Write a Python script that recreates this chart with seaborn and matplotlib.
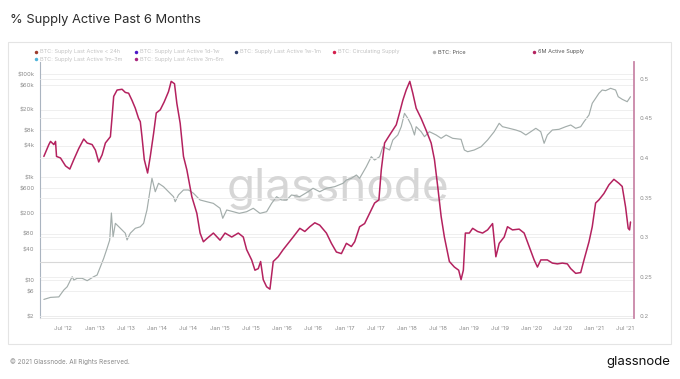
import numpy as np
import pandas as pd
import matplotlib
matplotlib.use("Agg")
import matplotlib.pyplot as plt
import seaborn as sns
from matplotlib.patches import Rectangle

# ---------------- data ----------------
price_year = [2012.185, 2012.292, 2012.425, 2012.505, 2012.559, 2012.612, 2012.639, 2012.665,
              2012.719, 2012.799, 2012.879, 2012.984, 2013.038, 2013.091, 2013.144, 2013.198,
              2013.240, 2013.267, 2013.294, 2013.331, 2013.411, 2013.490, 2013.518, 2013.570,
              2013.650, 2013.730, 2013.783, 2013.837, 2013.879, 2013.917, 2013.970, 2014.022,
              2014.102, 2014.182, 2014.262, 2014.289, 2014.342, 2014.422, 2014.502, 2014.582,
              2014.688, 2014.796, 2014.900, 2015.008, 2015.051, 2015.115, 2015.220, 2015.316,
              2015.434, 2015.540, 2015.647, 2015.754, 2015.834, 2015.914, 2015.994, 2016.073,
              2016.153, 2016.286, 2016.418, 2016.498, 2016.605, 2016.712, 2016.845, 2016.978,
              2017.032, 2017.112, 2017.192, 2017.244, 2017.351, 2017.431, 2017.484, 2017.564,
              2017.617, 2017.671, 2017.724, 2017.776, 2017.856, 2017.911, 2017.963, 2018.016,
              2018.070, 2018.123, 2018.150, 2018.230, 2018.283, 2018.362, 2018.470, 2018.550,
              2018.630, 2018.735, 2018.869, 2018.922, 2018.975, 2019.080, 2019.190, 2019.294,
              2019.400, 2019.480, 2019.533, 2019.640, 2019.747, 2019.827, 2019.907, 2019.987,
              2020.067, 2020.146, 2020.200, 2020.252, 2020.332, 2020.439, 2020.546, 2020.626,
              2020.706, 2020.786, 2020.839, 2020.919, 2020.971, 2021.025, 2021.078, 2021.131,
              2021.185, 2021.265, 2021.345, 2021.387, 2021.451, 2021.531, 2021.584]
price_usd = [4.2, 4.6, 4.7, 6.4, 7.4, 10.0, 11.6, 10.0,
             10.8, 10.8, 9.7, 11.6, 12.5, 18.1, 26.4, 41.3,
             59.8, 200, 69, 126, 101, 81, 60, 81,
             101, 108, 126, 229, 483, 944, 518, 755,
             649, 518, 415, 331, 448, 560, 560, 483,
             358, 331, 308, 247, 158, 229, 212, 197,
             212, 247, 197, 212, 308, 415, 358, 358,
             448, 415, 518, 604, 518, 604, 649, 755,
             875, 944, 1094, 944, 1585, 2478, 2138, 2478,
             3874, 3608, 3344, 5229, 6546, 9484, 17260, 13800,
             10230, 6546, 9484, 7586, 6066, 7586, 6546, 5640,
             6546, 5640, 5396, 3344, 3100, 3344, 3874, 5229,
             7586, 11036, 9484, 8824, 8180, 7586, 6546, 7586,
             8824, 7586, 4512, 6546, 8180, 8434, 9484, 10230,
             8824, 9484, 11860, 16000, 26980, 33740, 42180, 48880,
             47500, 52760, 48880, 36240, 32280, 28980, 36240]

active_year = [2012.185, 2012.265, 2012.292, 2012.345, 2012.372, 2012.388, 2012.452, 2012.532,
               2012.601, 2012.665, 2012.744, 2012.824, 2012.879, 2012.958, 2013.011, 2013.064,
               2013.118, 2013.171, 2013.251, 2013.278, 2013.304, 2013.358, 2013.438, 2013.490,
               2013.543, 2013.597, 2013.650, 2013.703, 2013.730, 2013.757, 2013.794, 2013.847,
               2013.890, 2013.943, 2013.986, 2014.050, 2014.113, 2014.182, 2014.225, 2014.278,
               2014.316, 2014.369, 2014.422, 2014.476, 2014.556, 2014.636, 2014.688, 2014.741,
               2014.796, 2014.901, 2015.008, 2015.088, 2015.195, 2015.300, 2015.380, 2015.434,
               2015.514, 2015.567, 2015.620, 2015.658, 2015.700, 2015.754, 2015.807, 2015.860,
               2015.939, 2016.019, 2016.099, 2016.179, 2016.286, 2016.366, 2016.446, 2016.526,
               2016.605, 2016.712, 2016.792, 2016.872, 2016.952, 2017.032, 2017.112, 2017.165,
               2017.244, 2017.324, 2017.404, 2017.484, 2017.553, 2017.591, 2017.644, 2017.724,
               2017.831, 2017.883, 2017.936, 2017.990, 2018.048, 2018.096, 2018.150, 2018.230,
               2018.310, 2018.390, 2018.443, 2018.495, 2018.550, 2018.602, 2018.682, 2018.762,
               2018.831, 2018.869, 2018.906, 2018.938, 2019.002, 2019.055, 2019.134, 2019.214,
               2019.294, 2019.374, 2019.400, 2019.427, 2019.480, 2019.560, 2019.613, 2019.693,
               2019.800, 2019.880, 2019.960, 2020.040, 2020.093, 2020.147, 2020.252, 2020.332,
               2020.412, 2020.492, 2020.572, 2020.626, 2020.706, 2020.786, 2020.839, 2020.919,
               2020.971, 2021.025, 2021.078, 2021.158, 2021.238, 2021.318, 2021.398, 2021.451,
               2021.505, 2021.547, 2021.569, 2021.584]
active_share = [0.402, 0.417, 0.421, 0.417, 0.421, 0.402, 0.400, 0.390,
                0.386, 0.398, 0.412, 0.424, 0.419, 0.417, 0.410, 0.395,
                0.404, 0.419, 0.427, 0.452, 0.478, 0.486, 0.487, 0.483,
                0.482, 0.473, 0.463, 0.450, 0.446, 0.427, 0.398, 0.381,
                0.402, 0.431, 0.457, 0.461, 0.471, 0.484, 0.497, 0.494,
                0.469, 0.444, 0.402, 0.385, 0.351, 0.330, 0.305, 0.294,
                0.298, 0.305, 0.296, 0.305, 0.300, 0.305, 0.300, 0.284,
                0.271, 0.258, 0.260, 0.269, 0.246, 0.237, 0.234, 0.269,
                0.275, 0.284, 0.292, 0.300, 0.311, 0.307, 0.313, 0.318,
                0.315, 0.305, 0.292, 0.281, 0.279, 0.292, 0.288, 0.294,
                0.313, 0.317, 0.330, 0.343, 0.347, 0.385, 0.419, 0.429,
                0.442, 0.457, 0.473, 0.486, 0.497, 0.482, 0.463, 0.450,
                0.435, 0.419, 0.398, 0.364, 0.326, 0.300, 0.269, 0.262,
                0.258, 0.246, 0.258, 0.305, 0.305, 0.311, 0.307, 0.305,
                0.309, 0.317, 0.296, 0.275, 0.292, 0.300, 0.313, 0.309,
                0.310, 0.305, 0.288, 0.271, 0.262, 0.271, 0.271, 0.267,
                0.266, 0.267, 0.266, 0.260, 0.254, 0.255, 0.271, 0.294,
                0.313, 0.343, 0.347, 0.355, 0.366, 0.373, 0.368, 0.364,
                0.338, 0.311, 0.309, 0.319]

left_ticks = [2, 6, 10, 40, 80, 200, 600, 1000, 4000, 8000, 20000, 60000, 100000]
left_labels = ["$2", "$6", "$10", "$40", "$80", "$200", "$600", "$1k", "$4k", "$8k",
               "$20k", "$60k", "$100k"]
right_ticks = [0.2, 0.25, 0.3, 0.35, 0.4, 0.45, 0.5]
right_labels = ["0.2", "0.25", "0.3", "0.35", "0.4", "0.45", "0.5"]
xtick_dates = ["2012-07-01", "2013-01-01", "2013-07-01", "2014-01-01", "2014-07-01",
               "2015-01-01", "2015-07-01", "2016-01-01", "2016-07-01", "2017-01-01",
               "2017-07-01", "2018-01-01", "2018-07-01", "2019-01-01", "2019-07-01",
               "2020-01-01", "2020-07-01", "2021-01-01", "2021-07-01"]
xtick_labels = ["Jul '12", "Jan '13", "Jul '13", "Jan '14", "Jul '14", "Jan '15", "Jul '15",
                "Jan '16", "Jul '16", "Jan '17", "Jul '17", "Jan '18", "Jul '18", "Jan '19",
                "Jul '19", "Jan '20", "Jul '20", "Jan '21", "Jul '21"]
legend_row1 = ["BTC: Supply Last Active < 24h", "BTC: Supply Last Active 1d-1w",
               "BTC: Supply Last Active 1w-1m", "BTC: Circulating Supply",
               "BTC: Price", "6M Active Supply"]
legend_row2 = ["BTC: Supply Last Active 1m-3m", "BTC: Supply Last Active 3m-6m"]
title_text = "% Supply Active Past 6 Months"
footer_text = "\u00a9 2021 Glassnode. All Rights Reserved."
brand_text = "glassnode"

# ---------------- styling ----------------
sns.set_theme(style="white")
plt.rcParams["font.family"] = ["Inter", "DejaVu Sans"]

PRICE_C = "#a3adab"
ACTIVE_C = "#b4225f"
TICK_C = "#8c8c8c"
W, H = 680, 379

def to_dates(years):
    y = np.asarray(years, dtype=float)
    return pd.Timestamp("2012-01-01") + pd.to_timedelta((y - 2012.0) * 365.25, unit="D")

price_df = pd.DataFrame({"date": to_dates(price_year), "price": price_usd})
active_df = pd.DataFrame({"date": to_dates(active_year), "share": active_share})

fig = plt.figure(figsize=(W / 100, H / 100), dpi=100)
fig.patch.set_facecolor("white")

# pixel-space overlay for decorations
ov = fig.add_axes([0, 0, 1, 1], zorder=-1)
ov.set_xlim(0, W)
ov.set_ylim(H, 0)
ov.axis("off")
ov.add_patch(Rectangle((8, 42), 663, 302, facecolor="white", edgecolor="#e4e4e4", lw=0.8))

# main axes (plot area x 40..634, y 62..318 px)
ax = fig.add_axes([40 / W, 1 - 318 / H, 594 / W, 256 / H])
ax.set_facecolor("none")
ax.set_yscale("log")
ax.set_ylim(1.83, 171000)
ax.set_xlim(pd.Timestamp("2012-02-15"), pd.Timestamp("2021-08-22"))

for t in left_ticks:
    ax.axhline(t, color="#ececec", lw=0.6, zorder=0)

ax.text(0.502, 0.505, "glassnode", transform=ax.transAxes, ha="center", va="center",
        fontsize=33, color="#d6d6d6", zorder=0.5, family=["Inter", "DejaVu Sans"])

sns.lineplot(data=price_df, x="date", y="price", ax=ax, color=PRICE_C, lw=0.85, zorder=2)

ax.set_yticks(left_ticks)
ax.set_yticklabels(left_labels)
ax.yaxis.set_minor_locator(matplotlib.ticker.NullLocator())
ax.set_xticks(pd.to_datetime(xtick_dates))
ax.set_xticklabels(xtick_labels)
ax.tick_params(axis="both", length=0, labelsize=4.3, colors=TICK_C, pad=4)
ax.tick_params(axis="x", pad=6)
ax.set_xlabel("")
ax.set_ylabel("")
for s in ["top", "right"]:
    ax.spines[s].set_visible(False)
ax.spines["left"].set_color("#aab4c0")
ax.spines["left"].set_linewidth(0.8)
ax.spines["bottom"].set_color("#e6e6e6")
ax.spines["bottom"].set_linewidth(0.6)

ax2 = ax.twinx()
ax2.set_ylim(0.1975, 0.5215)
for t in right_ticks:
    ax2.axhline(t, color="#ececec", lw=0.6, zorder=0)
ax2.axhline(0.2687, color="#d8d8d8", lw=0.8, zorder=0.6)
sns.lineplot(data=active_df, x="date", y="share", ax=ax2, color=ACTIVE_C, lw=1.1, zorder=3)
ax2.set_yticks(right_ticks)
ax2.set_yticklabels(right_labels)
ax2.tick_params(axis="y", length=0, labelsize=4.3, colors=TICK_C, pad=4)
ax2.set_ylabel("")
for s in ["top", "left", "bottom"]:
    ax2.spines[s].set_visible(False)
ax2.spines["right"].set_color("#c987a8")
ax2.spines["right"].set_linewidth(1.3)

# title, legend, footer
fig.text(10 / W, 1 - 20 / H, title_text, fontsize=9.3, color="#2b2b2b", ha="left", va="center")

row1_x = [36, 136, 236, 334, 434, 534]
row1_c = ["#9c3b2c", "#4b16c8", "#2d3d6b", "#d41e4c", "#b5b5b5", "#b4225f"]
row1_tc = ["#c4c4c4", "#c4c4c4", "#c4c4c4", "#c4c4c4", "#555555", "#555555"]
for x, lab, c, tc in zip(row1_x, legend_row1, row1_c, row1_tc):
    ov.plot([x], [52], marker="o", ms=2.5, color=c, mew=0)
    ov.text(x + 4, 52, lab, fontsize=4.0, color=tc, ha="left", va="center")
row2_x = [36, 136]
row2_c = ["#4fb3d9", "#a8267d"]
for x, lab, c in zip(row2_x, legend_row2, row2_c):
    ov.plot([x], [59], marker="o", ms=2.5, color=c, mew=0)
    ov.text(x + 4, 59, lab, fontsize=4.0, color="#c4c4c4", ha="left", va="center")

fig.text(10 / W, 1 - 362 / H, footer_text, fontsize=4.6, color="#8a8a8a", ha="left", va="center")
fig.text(670 / W, 1 - 362 / H, brand_text, fontsize=9.5, color="#111111", ha="right", va="center")

fig.savefig("out.png", dpi=100)
